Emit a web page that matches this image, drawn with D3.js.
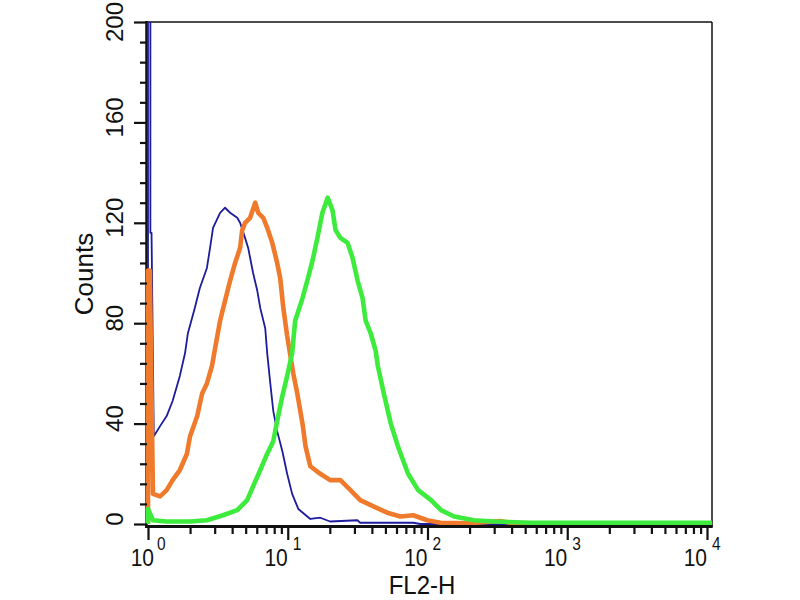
<!DOCTYPE html>
<html>
<head>
<meta charset="utf-8">
<script src="https://cdn.jsdelivr.net/npm/d3@7/dist/d3.min.js"></script>
<style>
  html, body { margin: 0; padding: 0; background: #fff; }
  svg { display: block; }
  text { font-family: "Liberation Sans", Arial, Helvetica, sans-serif; fill: #111; }
</style>
</head>
<body>
<svg id="chart" width="800" height="600"></svg>
<script>
// ---- data (FL2-H value, counts) ----
const blueSeries = [
  [1,0],[1,250],[1.04,250],[1.04,116],[1.06,116],[1.1,35],[1.22,39],[1.36,43],[1.5,49],
  [1.69,59],[1.84,68],[1.93,76],[2.16,86],[2.35,94],[2.64,102],[2.78,110],[2.92,118],
  [3.28,124],[3.56,126],[3.87,124],[4.35,122],[4.56,120],[4.95,114],[5.21,110],[5.65,100],
  [6.05,93],[6.36,86],[6.9,78],[7.13,68],[7.5,56],[7.88,45],[8.4,37],[9.15,29],[9.9,20],
  [10.75,12],[11.9,6],[14.5,2],[17.1,2.5],[20.1,1],[31.5,1.5],[33,0.5],[79,0.5],[89,0],[10000,0]
];
const orangeSeries = [
  [1,0],[1,101],[1.03,101],[1.085,12],[1.22,11],[1.36,13.5],[1.5,17.5],[1.69,21.5],[1.9,28],
  [2.0,35],[2.25,43],[2.44,52],[2.64,56],[2.87,63],[3.02,70],[3.28,81],[3.56,89],[3.87,97],
  [4.2,104],[4.56,110],[4.72,117],[4.95,120],[5.38,122],[5.85,128],[6.15,124],[6.68,122],
  [7.13,118],[7.75,112],[8.4,104],[8.83,98],[9.3,86],[9.9,75],[10.95,60],[11.7,52],[12.75,40],
  [13.4,31],[14.5,23],[17.1,20],[20.1,17.5],[23.8,17.5],[28.1,13.5],[33,9.5],[41,7],[51.5,4.5],
  [64,3],[79,3.5],[99.5,1.5],[124,0.5],[202,0.3],[331,1.2],[390,0.5],[460,0],[10000,0]
];
const greenSeries = [
  [1,0],[1,6],[1.085,1.5],[1.36,1],[2.0,1],[2.64,1.5],[3.44,3.5],[4.35,5.5],[5.12,9.5],
  [5.65,15],[6.36,21.5],[7.13,28],[7.88,33],[8.4,41],[9.15,51],[9.9,59],[10.75,68],[11.3,81],
  [12.75,90],[13.8,97],[15.05,105],[16.3,114],[17.7,124],[19.3,130],[20.9,125],[22,117],
  [23.8,114],[26.8,112],[29.1,106],[31.6,97],[34.3,90],[36.1,81],[39.2,76],[42.6,69],[44.1,63],
  [48.7,52],[54.6,40],[61.4,31],[72.6,20],[85.7,13.5],[106,9.5],[125,5.5],[155,3],[215,1.5],
  [300,1],[550,0.5],[11000,0.5]
];
const yMajorTicks = [0, 40, 80, 120, 160, 200];
const xDecadeTicks = [1, 10, 100, 1000, 10000];
const xTickExponents = ["0", "1", "2", "3", "4"];
const xTitle = "FL2-H";
const yTitle = "Counts";

// ---- layout ----
const svg = d3.select("#chart");
const plotLeft = 148, plotRight = 712, plotTop = 22, plotBottom = 527;

const x = d3.scaleLog().domain([1, 10000]).range([148, 707]);
const y = d3.scaleLinear().domain([0, 200]).range([524, 22]);

svg.append("rect").attr("width", 800).attr("height", 600).attr("fill", "#fff");

svg.append("defs").append("clipPath").attr("id", "plotclip")
  .append("rect").attr("x", plotLeft - 4).attr("y", plotTop)
  .attr("width", plotRight - plotLeft + 4).attr("height", plotBottom - plotTop);

// frame (top + right thin, left axis line)
svg.append("line").attr("x1", plotLeft - 2).attr("x2", plotRight).attr("y1", plotTop).attr("y2", plotTop)
  .attr("stroke", "#111").attr("stroke-width", 1.3);
svg.append("line").attr("x1", plotRight).attr("x2", plotRight).attr("y1", plotTop).attr("y2", plotBottom)
  .attr("stroke", "#111").attr("stroke-width", 1.5);
svg.append("line").attr("x1", plotLeft - 1.5).attr("x2", plotLeft - 1.5).attr("y1", plotTop - 1).attr("y2", plotBottom + 1)
  .attr("stroke", "#111").attr("stroke-width", 2.5);

// curves
const line = d3.line().x(d => x(d[0])).y(d => y(d[1])).curve(d3.curveLinear);
const g = svg.append("g").attr("clip-path", "url(#plotclip)");
g.append("path").datum(blueSeries).attr("d", line)
  .attr("fill", "none").attr("stroke", "#1c1c9c").attr("stroke-width", 1.8).attr("stroke-linejoin", "round");
g.append("path").datum(orangeSeries).attr("d", line)
  .attr("fill", "none").attr("stroke", "#f07a2c").attr("stroke-width", 4.6).attr("stroke-linejoin", "round");
g.append("path").datum(greenSeries).attr("d", line)
  .attr("fill", "none").attr("stroke", "#3ceb3c").attr("stroke-width", 4.6).attr("stroke-linejoin", "round");

// Y axis
const yAxis = d3.axisLeft(y)
  .tickValues(d3.range(0, 201, 8))
  .tickFormat("")
  .tickSize(7)
  .tickSizeOuter(0);
const yAx = svg.append("g").attr("transform", `translate(${plotLeft - 1},0)`).call(yAxis);
yAx.select(".domain").remove();
yAx.selectAll(".tick line")
  .attr("stroke", "#111").attr("stroke-width", 2.2)
  .attr("x2", d => yMajorTicks.includes(d) ? -13 : -7);

yMajorTicks.forEach(v => {
  svg.append("text")
    .attr("transform", `translate(123,${v === 200 ? y(v) : y(v) - 5}) rotate(-90)`)
    .attr("text-anchor", "middle")
    .attr("font-size", 24)
    .text(String(v));
});
svg.append("text")
  .attr("transform", `translate(93,274) rotate(-90)`)
  .attr("text-anchor", "middle")
  .attr("font-size", 26)
  .text(yTitle);

// X axis
const minorX = [];
for (let e = 0; e < 4; e++) for (let m = 2; m <= 9; m++) minorX.push(m * Math.pow(10, e));
const allX = xDecadeTicks.concat(minorX);
const xAxis = d3.axisBottom(x).tickValues(allX).tickFormat("").tickSize(7).tickSizeOuter(0);
const xAx = svg.append("g").attr("transform", `translate(0,527)`).call(xAxis);
xAx.select(".domain").remove();
xAx.selectAll(".tick line")
  .attr("stroke", "#111").attr("stroke-width", 2.2)
  .attr("y2", d => xDecadeTicks.includes(d) ? 13 : 7);
svg.append("line").attr("x1", plotLeft - 3).attr("x2", plotRight + 0.7).attr("y1", 526.5).attr("y2", 526.5)
  .attr("stroke", "#111").attr("stroke-width", 3);

xDecadeTicks.forEach((v, i) => {
  const tx = x(v);
  const lg = svg.append("g").attr("transform", `translate(${tx},566) scale(1,1.13)`);
  lg.append("text").attr("x", i === 0 ? 6 : 0).attr("text-anchor", "end").attr("font-size", 21).text("10");
  lg.append("text").attr("x", i === 0 ? 9 : 5).attr("y", -14).attr("text-anchor", "start").attr("font-size", 15.5)
    .text(xTickExponents[i]);
});

svg.append("g").attr("transform", "translate(422,594) scale(1,1.08)")
  .append("text").attr("text-anchor", "middle").attr("font-size", 24).text(xTitle);
</script>
</body>
</html>
